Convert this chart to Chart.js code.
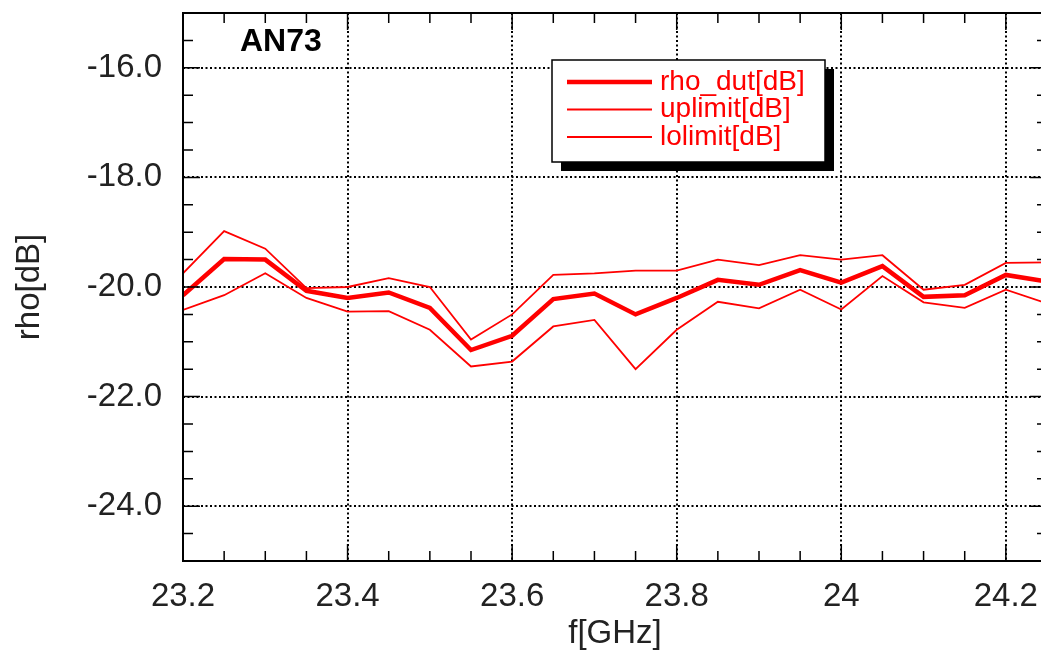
<!DOCTYPE html>
<html>
<head>
<meta charset="utf-8">
<script src="https://cdn.jsdelivr.net/npm/chart.js@4/dist/chart.umd.min.js"></script>
<style>
  html, body { margin: 0; padding: 0; background: #fff; overflow: hidden; }
  #wrap { width: 1041px; height: 654px; overflow: hidden; }
</style>
</head>
<body>
<div id="wrap"><canvas id="rhoChart" width="1047" height="654"></canvas></div>
<script>
// frequency points [GHz]
const freq = [23.2, 23.25, 23.3, 23.35, 23.4, 23.45, 23.5, 23.55, 23.6, 23.65, 23.7,
              23.75, 23.8, 23.85, 23.9, 23.95, 24.0, 24.05, 24.1, 24.15, 24.2, 24.25];
const rhoDut = [-20.15, -19.49, -19.5, -20.07, -20.2, -20.1, -20.38, -21.15, -20.89, -20.22, -20.12,
                -20.5, -20.2, -19.87, -19.96, -19.69, -19.92, -19.62, -20.18, -20.15, -19.78, -19.9];
const upLimit = [-19.75, -18.98, -19.3, -20.02, -20.0, -19.84, -20.0, -20.96, -20.5, -19.78, -19.75,
                 -19.7, -19.7, -19.5, -19.6, -19.42, -19.5, -19.42, -20.05, -19.96, -19.56, -19.55];
const loLimit = [-20.42, -20.15, -19.75, -20.2, -20.45, -20.44, -20.78, -21.45, -21.36, -20.72, -20.6,
                 -21.5, -20.78, -20.27, -20.39, -20.05, -20.41, -19.8, -20.28, -20.38, -20.05, -20.3];

const xTicks = [23.2, 23.4, 23.6, 23.8, 24, 24.2];
const yTicks = [-24, -22, -20, -18, -16];
const xMinorStep = 0.05;
const yMinorStep = 0.5;

const pts = arr => freq.map((f, i) => ({ x: f, y: arr[i] }));
const FONT = "'Liberation Sans', Arial, Helvetica, sans-serif";

// inward ticks on all four sides, plus the box frame
const framePlugin = {
  id: 'frame',
  afterDatasetsDraw(chart) {
    const { ctx, chartArea: a, scales: { x, y } } = chart;
    ctx.save();
    ctx.strokeStyle = '#000';
    ctx.lineWidth = 1.5;
    const major = 17, minor = 10;
    const isMajor = (list, v) => list.some(t => Math.abs(t - v) < 1e-6);
    let n = Math.round((x.max - x.min) / xMinorStep);
    for (let i = 0; i <= n; i++) {
      const v = x.min + i * xMinorStep;
      const px = x.getPixelForValue(v);
      const len = isMajor(xTicks, v) ? major : minor;
      ctx.beginPath();
      ctx.moveTo(px, a.bottom); ctx.lineTo(px, a.bottom - len);
      ctx.moveTo(px, a.top); ctx.lineTo(px, a.top + len);
      ctx.stroke();
    }
    n = Math.round((y.max - y.min) / yMinorStep);
    for (let i = 0; i <= n; i++) {
      const v = y.min + i * yMinorStep;
      const py = y.getPixelForValue(v);
      const len = isMajor(yTicks, v) ? major : minor;
      ctx.beginPath();
      ctx.moveTo(a.left, py); ctx.lineTo(a.left + len, py);
      ctx.moveTo(a.right, py); ctx.lineTo(a.right - len, py);
      ctx.stroke();
    }
    ctx.lineWidth = 2;
    ctx.strokeRect(a.left, a.top, a.right - a.left, a.bottom - a.top);
    ctx.restore();
  },
  afterDraw(chart) {
    const { ctx, chartArea: a } = chart;
    ctx.save();
    // title inside the plot
    ctx.fillStyle = '#000';
    ctx.font = 'bold 32px ' + FONT;
    ctx.textBaseline = 'alphabetic';
    ctx.fillText('AN73', a.left + 57, a.top + 38);

    // legend box with drop shadow
    const bx = a.left + 369, by = a.top + 47, bw = 273, bh = 102;
    ctx.fillStyle = '#000';
    ctx.fillRect(bx + 9, by + 9, bw, bh);
    ctx.fillStyle = '#fff';
    ctx.fillRect(bx, by, bw, bh);
    ctx.lineWidth = 1.5;
    ctx.strokeStyle = '#000';
    ctx.strokeRect(bx, by, bw, bh);
    ctx.font = '28px ' + FONT;
    ctx.textBaseline = 'middle';
    chart.data.datasets.forEach((ds, i) => {
      const ly = by + 22 + i * 27.5;
      ctx.strokeStyle = ds.borderColor;
      ctx.lineWidth = ds.borderWidth;
      ctx.beginPath();
      ctx.moveTo(bx + 15, ly); ctx.lineTo(bx + 100, ly);
      ctx.stroke();
      ctx.fillStyle = ds.borderColor;
      ctx.fillText(ds.label, bx + 108, ly);
    });
    ctx.restore();
  }
};

const ctx = document.getElementById('rhoChart');
new Chart(ctx, {
  type: 'line',
  data: {
    datasets: [
      { label: 'rho_dut[dB]', data: pts(rhoDut), borderColor: '#ff0000', borderWidth: 4.5, order: 0 },
      { label: 'uplimit[dB]', data: pts(upLimit), borderColor: '#ff0000', borderWidth: 1.8, order: 1 },
      { label: 'lolimit[dB]', data: pts(loLimit), borderColor: '#ff0000', borderWidth: 1.8, order: 2 }
    ]
  },
  options: {
    responsive: false,
    animation: false,
    devicePixelRatio: 1,
    layout: { padding: { top: 13, right: 0, left: 0, bottom: 0 } },
    elements: { point: { radius: 0 }, line: { tension: 0 } },
    plugins: { legend: { display: false }, tooltip: { enabled: false } },
    scales: {
      x: {
        type: 'linear',
        min: 23.2,
        max: 24.25,
        afterBuildTicks: s => { s.ticks = xTicks.map(v => ({ value: v })); },
        afterFit: s => { s.height = 93; s.paddingLeft = 0; s.paddingRight = 0; },
        ticks: { color: '#222', font: { family: FONT, size: 33 }, padding: 16,
                 callback: v => String(v), maxRotation: 0, autoSkip: false },
        grid: { color: '#000', lineWidth: 2, drawTicks: false },
        border: { display: false, dash: [2, 2.5] },
        title: { display: true, text: 'f[GHz]', color: '#222',
                 font: { family: FONT, size: 33 }, padding: { top: -1, bottom: 0 } }
      },
      y: {
        min: -25,
        max: -15,
        afterBuildTicks: s => { s.ticks = yTicks.map(v => ({ value: v })); },
        afterFit: s => { s.width = 183; s.paddingTop = 0; s.paddingBottom = 0; },
        ticks: { color: '#222', font: { family: FONT, size: 33 }, padding: 21,
                 callback: v => v.toFixed(1), autoSkip: false },
        grid: { color: '#000', lineWidth: 2, drawTicks: false },
        border: { display: false, dash: [2, 2.5] },
        title: { display: true, text: 'rho[dB]', color: '#222',
                 font: { family: FONT, size: 33 }, padding: { top: 10, bottom: 0 } }
      }
    }
  },
  plugins: [framePlugin]
});
</script>
</body>
</html>
